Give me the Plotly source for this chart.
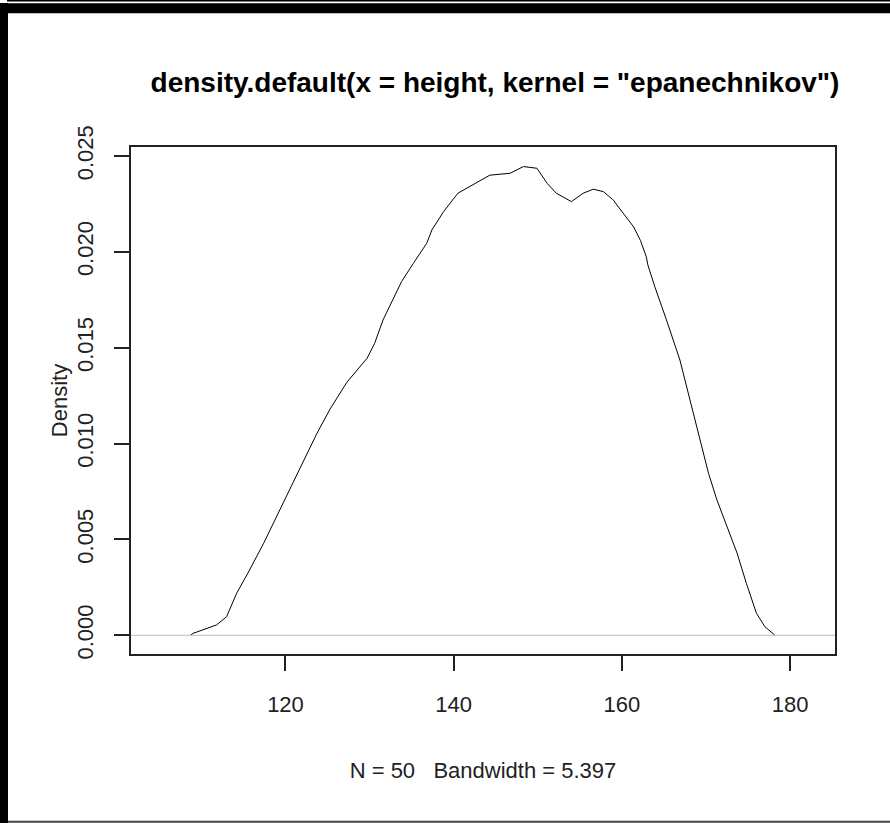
import plotly.graph_objects as go

# Density estimate (x = height, y = density)
height_grid = [108.7, 109.0, 111.8, 113.0, 114.2, 115.6, 117.4, 118.5, 119.7,
               121.1, 122.3, 123.7, 125.3, 127.3, 129.7, 130.6, 131.6, 132.8, 133.8,
               135.2, 136.8, 137.4, 138.8, 140.5, 141.9, 144.3, 146.7, 148.3, 149.9,
               151.1, 152.2, 154.0, 155.4, 156.6, 157.8, 159.0, 159.4, 161.0, 161.4,
               162.2, 162.9, 163.1, 163.9, 165.3, 166.9, 168.1, 169.1, 170.3, 171.3,
               172.5, 173.7, 174.8, 176.0, 177.0, 178.0, 178.2]
density_vals = [0.0, 0.0001, 0.00054, 0.00097, 0.0022, 0.0033, 0.0048, 0.0058, 0.0069,
                0.0081, 0.0092, 0.0105, 0.0118, 0.0132, 0.01445, 0.01523, 0.01645, 0.0175, 0.01845,
                0.0194, 0.02045, 0.02114, 0.0221, 0.02306, 0.0234, 0.0240, 0.0241, 0.02445, 0.02436,
                0.02358, 0.02306, 0.02262, 0.02306, 0.02327, 0.02314, 0.0227, 0.02245, 0.0215, 0.0213,
                0.0206, 0.01975, 0.0193, 0.0182, 0.01645, 0.01436, 0.01227, 0.01054, 0.00845, 0.00706,
                0.00567, 0.00428, 0.00271, 0.00115, 0.00045, 0.0001, 0.0]

x_ticks = [120, 140, 160, 180]
y_ticks = [0.000, 0.005, 0.010, 0.015, 0.020, 0.025]
y_tick_labels = ["0.000", "0.005", "0.010", "0.015", "0.020", "0.025"]

title_text = 'density.default(x = height, kernel = "epanechnikov")'
x_title = "N = 50\u00a0\u00a0\u00a0Bandwidth = 5.397"
y_title = "Density"

W, H = 890, 823
L, R, T, B = 131, 55, 147, 169
pw, ph = W - L - R, H - T - B

def px(x):
    return (x - L) / pw

def py(y):
    return (H - B - y) / ph

fig = go.Figure()
fig.add_trace(go.Scatter(x=height_grid, y=density_vals, mode="lines",
                         line=dict(color="black", width=1), hoverinfo="skip",
                         showlegend=False))

font_main = "Liberation Sans, Arial, sans-serif"
ink = "#222222"

shapes = [
    # zero line (gray)
    dict(type="line", xref="paper", yref="y", x0=0, x1=1, y0=0, y1=0,
         line=dict(color="#bebebe", width=1), layer="above"),
    # window-like black frame
    dict(type="rect", xref="paper", yref="paper", x0=px(0), x1=px(8), y0=py(823), y1=py(3),
         fillcolor="black", line=dict(width=0), layer="above"),
    dict(type="rect", xref="paper", yref="paper", x0=px(0), x1=px(890), y0=py(13.3), y1=py(3.3),
         fillcolor="black", line=dict(width=0), layer="above"),
    dict(type="line", xref="paper", yref="paper", x0=px(7), x1=px(890), y0=py(0.7), y1=py(0.7),
         line=dict(color="black", width=1.5), layer="above"),
    dict(type="line", xref="paper", yref="paper", x0=px(8), x1=px(890), y0=py(821.7), y1=py(821.7),
         line=dict(color="#444444", width=2), layer="above"),
]

fig.update_layout(
    width=W, height=H,
    margin=dict(l=L, r=R, t=T, b=B, pad=0),
    paper_bgcolor="white", plot_bgcolor="white",
    title=dict(text=title_text, x=px(495), xref="paper", xanchor="center",
               y=1 - 82 / H, yref="container", yanchor="middle",
               font=dict(family=font_main, size=28, color="black", weight="bold")),
    font=dict(family=font_main, color="black"),
    shapes=shapes,
    xaxis=dict(range=[101.63, 185.34], tickvals=x_ticks, ticktext=[str(v) for v in x_ticks],
               showgrid=False, zeroline=False, showline=True, mirror=True,
               linecolor=ink, linewidth=1.5, ticks="outside", ticklen=15,
               tickcolor=ink, tickwidth=1.5,
               tickfont=dict(family=font_main, size=22, color=ink),
               ticklabelstandoff=15,
               title=dict(text=x_title, standoff=46,
                          font=dict(family=font_main, size=22, color=ink))),
    yaxis=dict(range=[-0.000975, 0.02547], tickvals=y_ticks, ticktext=y_tick_labels,
               showgrid=False, zeroline=False, showline=True, mirror=True,
               linecolor=ink, linewidth=1.5, ticks="outside", ticklen=15,
               tickcolor=ink, tickwidth=1.5, tickangle=-90,
               tickfont=dict(family=font_main, size=22, color=ink),
               ticklabelstandoff=12,
               title=dict(text=y_title, standoff=0,
                          font=dict(family=font_main, size=22, color=ink))),
)

fig.write_html("out.html")
